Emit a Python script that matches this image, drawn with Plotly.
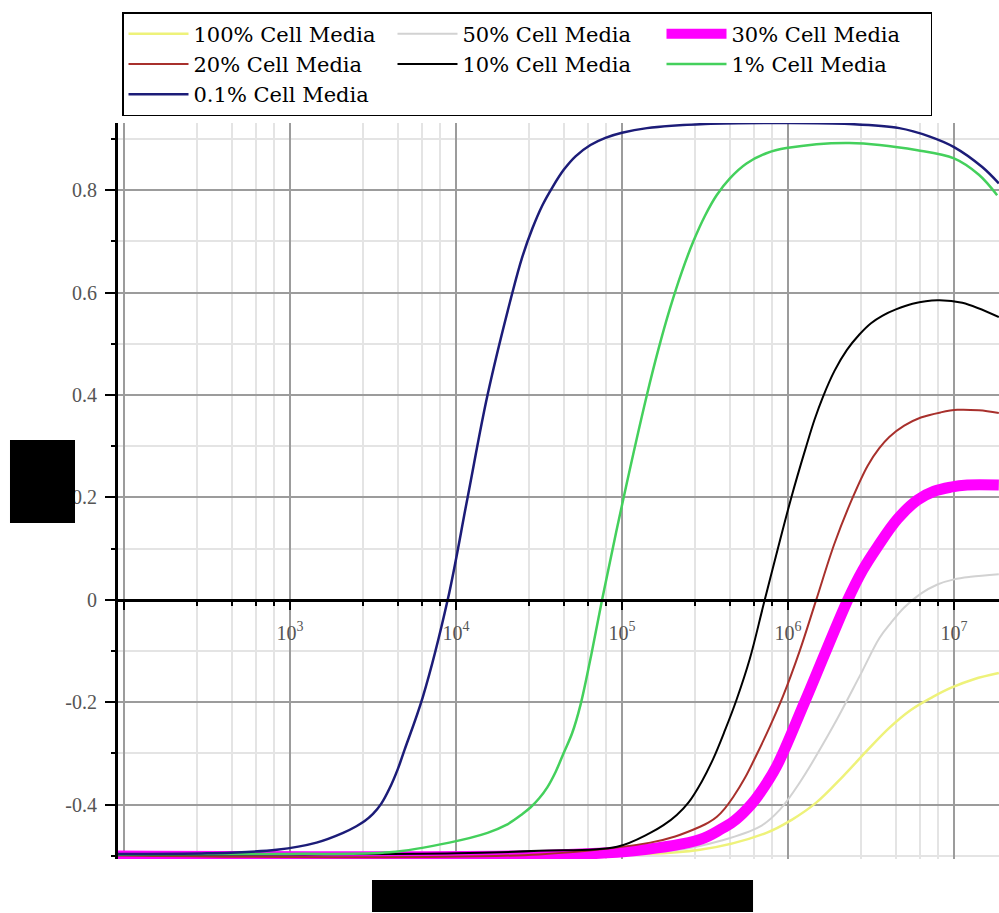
import numpy as np
import plotly.graph_objects as go

# ---- data (x given as log10 of the x value, y) ----
names = ["100% Cell Media", "50% Cell Media", "30% Cell Media", "20% Cell Media",
         "10% Cell Media", "1% Cell Media", "0.1% Cell Media"]
colors = ["#eef27a", "#d2d2d2", "#ff00ff", "#a8302c", "#000000", "#44d05c", "#1c1c78"]
widths = [2.5, 2, 11, 2, 2, 2.5, 2.5]

logx_100 = [1.96, 4.5, 5.47, 5.87, 6.02, 6.17, 6.33, 6.48, 6.61, 6.74, 6.87, 6.98, 7.12, 7.27]
y_100 = [-0.5, -0.499, -0.488, -0.455, -0.43, -0.396, -0.345, -0.293, -0.25, -0.215, -0.19,
         -0.172, -0.155, -0.143]

logx_50 = [1.96, 4.5, 5.3, 5.6, 5.83, 5.95, 6.07, 6.27, 6.43, 6.55, 6.62, 6.70, 6.8, 6.9,
           7.0, 7.1, 7.27]
y_50 = [-0.5, -0.499, -0.49, -0.47, -0.443, -0.41, -0.357, -0.248, -0.15, -0.075, -0.045,
        -0.015, 0.012, 0.03, 0.04, 0.045, 0.05]

logx_30 = [1.96, 4.5, 5.07, 5.47, 5.6, 5.67, 5.73, 5.78, 5.83, 5.93, 6.10, 6.36, 6.45, 6.54,
           6.66, 6.78, 6.88, 6.98, 7.08, 7.27]
y_30 = [-0.5, -0.499, -0.49, -0.468, -0.447, -0.433, -0.416, -0.399, -0.378, -0.326, -0.2,
        0.0, 0.058, 0.104, 0.158, 0.195, 0.212, 0.22, 0.224, 0.224]

logx_20 = [1.96, 4.5, 5.17, 5.32, 5.47, 5.52, 5.57, 5.62, 5.67, 5.74, 5.81, 5.89, 5.97, 6.07,
           6.17, 6.28, 6.39, 6.48, 6.55, 6.61, 6.7, 6.8, 6.92, 7.02, 7.15, 7.27]
y_20 = [-0.499, -0.497, -0.474, -0.462, -0.443, -0.435, -0.424, -0.407, -0.385, -0.348,
        -0.303, -0.248, -0.188, -0.1, 0.0, 0.11, 0.2, 0.262, 0.296, 0.318, 0.34, 0.356,
        0.366, 0.371, 0.37, 0.365]

logx_10 = [1.96, 3.0, 4.0, 4.5, 4.97, 5.17, 5.25, 5.33, 5.40, 5.48, 5.55, 5.62, 5.69, 5.77,
           5.86, 6.02, 6.11, 6.16, 6.21, 6.28, 6.355, 6.43, 6.5, 6.57, 6.65, 6.75, 6.90,
           7.05, 7.27]
y_10 = [-0.498, -0.497, -0.495, -0.49, -0.482, -0.455, -0.44, -0.42, -0.396, -0.355, -0.31,
        -0.255, -0.195, -0.115, 0.0, 0.2, 0.3, 0.352, 0.396, 0.447, 0.488, 0.518, 0.54,
        0.555, 0.567, 0.578, 0.585, 0.58, 0.552]

logx_1 = [1.96, 3.0, 3.6, 3.96, 4.19, 4.3, 4.40, 4.45, 4.50, 4.55, 4.60, 4.65, 4.70, 4.75,
          4.81, 4.88, 5.01, 5.15, 5.22, 5.29, 5.36, 5.43, 5.5, 5.57, 5.65, 5.75, 5.87, 5.99,
          6.37, 6.78, 7.0, 7.15, 7.26]
y_1 = [-0.497, -0.496, -0.493, -0.474, -0.455, -0.44, -0.418, -0.405, -0.388, -0.366,
       -0.336, -0.298, -0.26, -0.205, -0.115, 0.0, 0.2, 0.4, 0.49, 0.57, 0.64, 0.70, 0.75,
       0.79, 0.823, 0.852, 0.872, 0.882, 0.892, 0.878, 0.862, 0.83, 0.79]

logx_01 = [1.96, 2.5, 2.92, 3.16, 3.32, 3.40, 3.45, 3.50, 3.55, 3.60, 3.65, 3.69, 3.80, 3.95,
           4.07, 4.19, 4.34, 4.40, 4.46, 4.52, 4.58, 4.65, 4.72, 4.81, 4.9, 5.0, 5.15, 5.5,
           6.0, 6.37, 6.67, 6.85, 7.0, 7.17, 7.27]
y_01 = [-0.496, -0.495, -0.488, -0.474, -0.455, -0.442, -0.432, -0.418, -0.398, -0.368,
        -0.33, -0.293, -0.19, 0.0, 0.2, 0.4, 0.6, 0.67, 0.725, 0.77, 0.805, 0.84, 0.866,
        0.888, 0.902, 0.912, 0.921, 0.929, 0.931, 0.929, 0.921, 0.905, 0.884, 0.845, 0.813]

series_logx = [logx_100, logx_50, logx_30, logx_20, logx_10, logx_1, logx_01]
series_y = [y_100, y_50, y_30, y_20, y_10, y_1, y_01]

x_tickvals = [1e2, 1e3, 1e4, 1e5, 1e6, 1e7]
x_ticktext = ["", "10<sup>3</sup>", "10<sup>4</sup>", "10<sup>5</sup>", "10<sup>6</sup>", "10<sup>7</sup>"]
x_minor_mult = [2.75, 4.5, 6.25, 8.0]          # minor ticks within each decade
y_tickvals = [-0.4, -0.2, 0, 0.2, 0.4, 0.6, 0.8]
y_ticktext = ["-0.4", "-0.2", "0", "0.2", "0.4", "0.6", "0.8"]

x_range_log = [1.964, 7.271]
y_range = [-0.506, 0.931]

fig = go.Figure()
for name, col, w, lx, yy in zip(names, colors, widths, series_logx, series_y):
    fig.add_trace(go.Scatter(
        x=np.power(10.0, lx), y=yy, mode="lines", name=name,
        line=dict(color=col, width=w, shape="spline", smoothing=1.0),
    ))

serif = "Liberation Serif"
x_axis_pos = (0 - y_range[0]) / (y_range[1] - y_range[0])
x_minor_vals = [d * m for d in [1e1, 1e2, 1e3, 1e4, 1e5, 1e6, 1e7] for m in x_minor_mult]

fig.update_layout(
    width=999, height=913,
    margin=dict(l=118, r=0, t=123, b=54, autoexpand=False),
    paper_bgcolor="white", plot_bgcolor="white",
    font=dict(family=serif, color="#444444", size=20),
    showlegend=True,
    legend=dict(
        orientation="h",
        xref="container", yref="container",
        x=122 / 999, y=1 - 12 / 913, xanchor="left", yanchor="top",
        bordercolor="black", borderwidth=1.5, bgcolor="white",
        font=dict(family="DejaVu Serif", size=21, color="black"),
        entrywidth=194, itemwidth=60,
        tracegroupgap=0,
    ),
    xaxis=dict(
        type="log", range=x_range_log, automargin=False,
        anchor="free", position=x_axis_pos,
        showline=True, linecolor="black", linewidth=2.5,
        tickvals=x_tickvals, ticktext=x_ticktext,
        ticks="outside", ticklen=8, tickwidth=2, tickcolor="black",
        ticklabelstandoff=6,
        tickfont=dict(family=serif, size=20, color="#555555"),
        showgrid=True, gridcolor="#9c9c9c", gridwidth=2,
        minor=dict(tickmode="array", tickvals=x_minor_vals, showgrid=True,
                   gridcolor="#e4e4e4", gridwidth=2,
                   ticks="outside", ticklen=4, tickwidth=2, tickcolor="black"),
        zeroline=False,
    ),
    yaxis=dict(
        range=y_range, automargin=False,
        showline=True, linecolor="black", linewidth=3,
        tickvals=y_tickvals, ticktext=y_ticktext,
        ticks="outside", ticklen=10, tickwidth=2, tickcolor="black",
        ticklabelstandoff=4,
        tickfont=dict(family=serif, size=20, color="#555555"),
        showgrid=True, gridcolor="#9c9c9c", gridwidth=2,
        minor=dict(dtick=0.1, showgrid=True, gridcolor="#e4e4e4", gridwidth=2,
                   ticks="outside", ticklen=4, tickwidth=2, tickcolor="black"),
        zeroline=False,
    ),
)

# redaction boxes over the axis titles
fig.add_shape(type="rect", xref="paper", yref="paper",
              x0=-0.1226, x1=-0.0488, y0=0.4565, y1=0.5693,
              fillcolor="black", line=dict(width=0), layer="above")
fig.add_shape(type="rect", xref="paper", yref="paper",
              x0=0.2883, x1=0.7208, y0=-0.072, y1=-0.0285,
              fillcolor="black", line=dict(width=0), layer="above")

fig.write_html("out.html", config={"displayModeBar": False},
               post_script="document.body.style.margin='0';")
